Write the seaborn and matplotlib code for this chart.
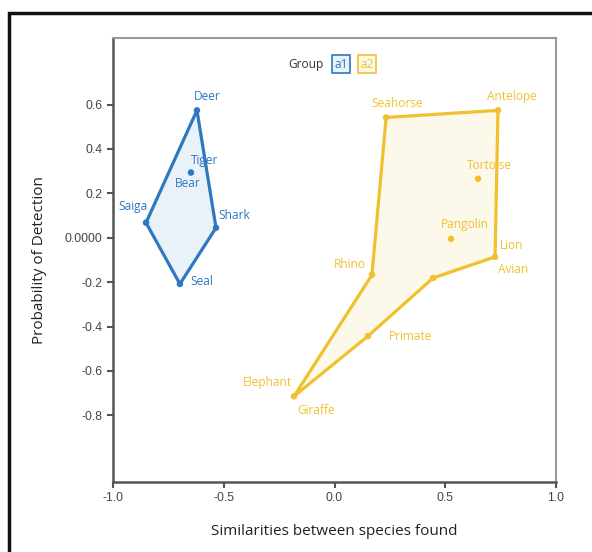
import numpy as np
import pandas as pd
import seaborn as sns
import matplotlib.pyplot as plt
from matplotlib.patches import Rectangle

# points
species = ['Deer', 'Tiger/Bear', 'Saiga', 'Shark', 'Seal',
           'Seahorse', 'Antelope', 'Tortoise', 'Pangolin', 'Lion/Avian',
           'Edge', 'Rhino', 'Primate', 'Elephant/Giraffe']
group = ['a1'] * 5 + ['a2'] * 9
sim = [-0.621, -0.648, -0.851, -0.535, -0.698,
       0.233, 0.738, 0.648, 0.526, 0.725,
       0.445, 0.169, 0.151, -0.183]
prob = [0.574, 0.294, 0.068, 0.045, -0.208,
        0.542, 0.574, 0.266, -0.005, -0.086,
        -0.181, -0.167, -0.443, -0.714]

hull_a1 = ['Deer', 'Shark', 'Seal', 'Saiga']
hull_a2 = ['Seahorse', 'Antelope', 'Lion/Avian', 'Edge', 'Primate',
           'Elephant/Giraffe', 'Rhino']

# label text, anchor point, offset in pixels
labels = [('Deer', 'Deer', 10, 14), ('Tiger', 'Tiger/Bear', 14, 12),
          ('Bear', 'Tiger/Bear', -3, -11), ('Saiga', 'Saiga', -13, 16),
          ('Shark', 'Shark', 18, 12), ('Seal', 'Seal', 22, 2),
          ('Seahorse', 'Seahorse', 11, 14), ('Antelope', 'Antelope', 14, 14),
          ('Tortoise', 'Tortoise', 11, 13), ('Pangolin', 'Pangolin', 14, 14),
          ('Lion', 'Lion/Avian', 17, 11), ('Avian', 'Lion/Avian', 18, -13),
          ('Rhino', 'Rhino', -22, 10), ('Primate', 'Primate', 43, 0),
          ('Elephant', 'Elephant/Giraffe', -27, 14),
          ('Giraffe', 'Elephant/Giraffe', 22, -14)]

df = pd.DataFrame({'species': species, 'group': group, 'sim': sim, 'prob': prob})
df = df.set_index('species', drop=False)

colors = {'a1': '#2e78c2', 'a2': '#f0c12e'}
fills = {'a1': '#e9f2f9', 'a2': '#fcf8ea'}

sns.set_style('ticks')
plt.rcParams['font.family'] = ['Open Sans', 'DejaVu Sans']

fig = plt.figure(figsize=(5.92, 5.52), dpi=100)
ax = fig.add_axes([0.1909, 0.1268, 0.7483, 0.8044])

for g, hull in [('a1', hull_a1), ('a2', hull_a2)]:
    h = df.loc[hull + hull[:1]]
    ax.fill(h['sim'], h['prob'], facecolor=fills[g], edgecolor='none', zorder=1)
    ax.plot(h['sim'], h['prob'], color=colors[g], lw=2.3, zorder=2)

sns.scatterplot(data=df, x='sim', y='prob', hue='group', palette=colors,
                s=22, edgecolor='none', legend=False, ax=ax, zorder=3)

for text, name, dx, dy in labels:
    r = df.loc[name]
    ax.annotate(text, (r['sim'], r['prob']), xytext=(dx, dy),
                textcoords='offset pixels', ha='center', va='center',
                fontsize=8.6, color=colors[r['group']])

# legend
ax.text(0.436, 0.941, 'Group', transform=ax.transAxes, ha='center', va='center',
        fontsize=8.6, color='#333333')
for i, g in enumerate(['a1', 'a2']):
    ax.text(0.515 + i * 0.058, 0.941, g, transform=ax.transAxes, ha='center',
            va='center', fontsize=8.6, color=colors[g],
            bbox=dict(boxstyle='square,pad=0.2', facecolor=fills[g],
                      edgecolor=colors[g], lw=1.2))

ax.set_xlim(-1.0, 1.0)
ax.set_ylim(-1.1, 0.9)
ax.set_xticks([-1.0, -0.5, 0.0, 0.5, 1.0])
ax.set_xticklabels(['-1.0', '-0.5', '0.0', '0.5', '1.0'])
yt = [0.6, 0.4, 0.2, 0.0, -0.2, -0.4, -0.6, -0.8]
ax.set_yticks(yt)
ax.set_yticklabels(['0.0000' if v == 0 else f'{v:.1f}' for v in yt])
ax.tick_params(length=4, width=1.5, color='#555555', labelsize=8.7,
               labelcolor='#444444', labelfontfamily='Liberation Sans')
for side in ['left', 'bottom']:
    ax.spines[side].set_color('#555555')
    ax.spines[side].set_linewidth(1.8)
for side in ['top', 'right']:
    ax.spines[side].set_color('#999999')
    ax.spines[side].set_linewidth(1.5)

ax.set_xlabel('Similarities between species found', fontsize=11, color='#222222',
              labelpad=14)
ax.set_ylabel('Probability of Detection', fontsize=11, color='#222222',
              labelpad=13)

fig.patches.append(Rectangle((9 / 592, -0.1), 1.2, 1.1 - 13 / 552,
                             transform=fig.transFigure, fill=False,
                             edgecolor='#111111', lw=2.5))

fig.savefig('out.png', dpi=100)
